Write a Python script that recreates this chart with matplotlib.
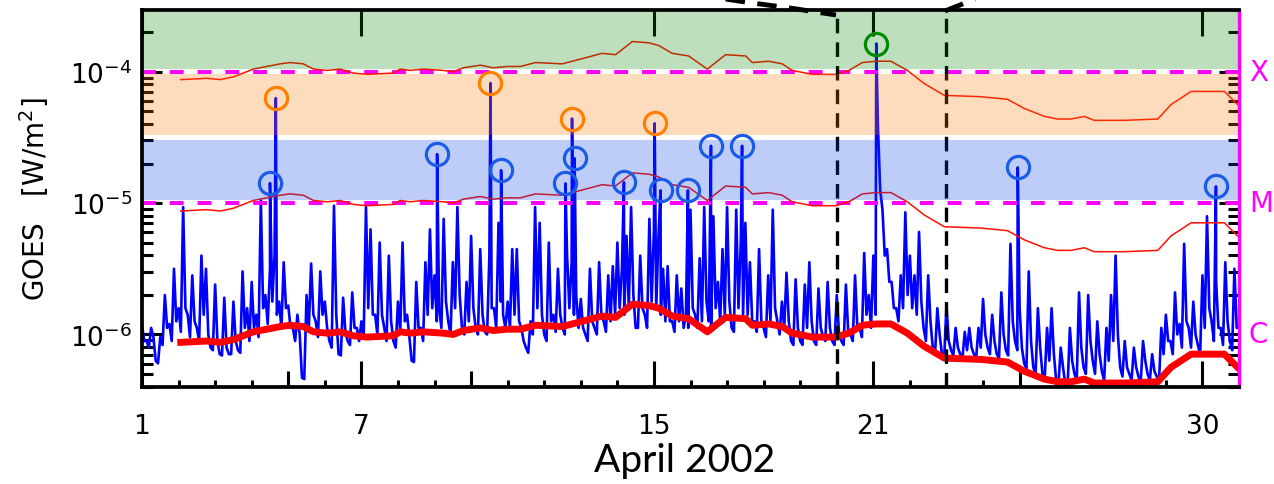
import numpy as np
import matplotlib
matplotlib.use('Agg')
import matplotlib.pyplot as plt
from matplotlib.lines import Line2D
from matplotlib.ticker import FixedLocator, FixedFormatter, LogLocator, NullFormatter
from matplotlib.transforms import blended_transform_factory

plt.rcParams['lines.scale_dashes'] = False

# GOES 1-8 A flux (log10 W/m^2), one value every 1/8 day from April 1.0 to May 1.0
goes_log = [
    -5.93, -6.05, -5.95, -6.20, -6.02, -5.70, -5.92, -5.50,   # 1
    -5.80, -5.03, -5.85, -5.55, -5.95, -5.40, -5.50, -6.10,   # 2
    -5.62, -6.15, -5.72, -6.15, -5.75, -6.12, -5.52, -5.80,   # 3
    -5.60, -5.85, -4.98, -5.70, -5.50, -5.40, -5.75, -5.45,   # 4
    -5.78, -5.95, -5.85, -6.33, -5.70, -5.46, -5.90, -5.52,   # 5
    -5.75, -6.05, -5.02, -6.15, -5.72, -6.05, -5.68, -5.95,   # 6
    -5.90, -5.03, -5.20, -5.85, -5.30, -5.95, -5.40, -6.05,   # 7
    -5.75, -5.30, -5.85, -6.20, -5.60, -5.95, -5.45, -5.20,   # 8
    -5.55, -5.80, -5.12, -5.90, -5.45, -5.03, -5.95, -5.60,   # 9
    -5.25, -5.95, -5.35, -5.98, -5.40, -5.80, -5.15, -5.85,   # 10
    -5.75, -5.35, -5.35, -5.95, -6.10, -5.90, -5.03, -5.15,   # 11
    -6.00, -5.30, -5.85, -5.50, -5.95, -5.40, -5.45, -5.70,   # 12
    -5.73, -6.00, -5.50, -5.95, -5.45, -5.90, -5.55, -5.48,   # 13
    -5.30, -5.50, -5.25, -5.03, -5.95, -5.40, -5.85, -5.12,   # 14
    -5.20, -5.25, -5.50, -5.48, -5.90, -5.55, -5.65, -5.85,   # 15
    -5.05, -5.85, -5.42, -5.03, -5.90, -5.10, -5.60, -5.35,   # 16
    -5.03, -5.95, -5.05, -5.30, -5.15, -5.45, -5.90, -5.35,   # 17
    -5.95, -5.55, -5.05, -5.90, -5.75, -5.53, -6.05, -5.58,   # 18
    -6.05, -5.62, -5.45, -6.05, -5.65, -6.02, -5.60, -6.05,   # 19
    -5.70, -6.05, -5.62, -6.00, -5.55, -5.95, -5.38, -5.70,   # 20
    -5.40, -4.40, -5.05, -5.35, -5.60, -5.80, -5.55, -5.07,   # 21
    -5.40, -5.55, -5.22, -5.95, -5.55, -6.10, -5.80, -6.15,   # 22
    -5.78, -6.12, -5.95, -6.15, -5.98, -5.95, -6.15, -5.95,   # 23
    -5.73, -6.10, -5.85, -6.15, -5.68, -6.12, -5.31, -6.05,   # 24
    -5.80, -6.22, -5.52, -6.25, -5.80, -6.30, -5.95, -5.80,   # 25
    -6.35, -6.10, -6.38, -5.95, -6.30, -5.68, -6.25, -5.70,   # 26
    -6.20, -5.90, -6.28, -5.95, -5.70, -5.40, -6.25, -6.05,   # 27
    -6.30, -6.10, -6.32, -6.05, -6.30, -6.15, -6.32, -5.95,   # 28
    -5.85, -6.05, -5.68, -5.92, -5.31, -5.95, -5.75, -6.08,   # 29
    -5.55, -5.10, -5.90, -5.60, -5.95, -5.45, -6.05, -5.50,   # 30
    -5.95,
]
# lower readings between those samples (at +1/16 day)
goes_low = [
    -6.05, -6.10, -6.02, -6.22, -6.08, -5.95, -6.05, -5.90,   # 1
    -5.98, -5.80, -6.02, -5.90, -6.05, -5.85, -6.00, -6.12,   # 2
    -6.05, -6.16, -6.10, -6.15, -6.05, -6.14, -5.95, -6.05,   # 3
    -5.95, -6.02, -5.80, -5.92, -5.75, -5.85, -5.95, -5.80,   # 4
    -5.95, -6.05, -6.00, -6.34, -5.95, -5.85, -6.02, -5.85,   # 5
    -5.95, -6.10, -5.85, -6.16, -5.98, -6.08, -5.95, -6.05,   # 6
    -6.02, -5.80, -5.85, -6.00, -5.85, -6.05, -5.90, -6.10,   # 7
    -5.98, -5.90, -6.02, -6.21, -5.95, -6.05, -5.85, -5.80,   # 8
    -5.90, -5.95, -5.75, -6.00, -5.80, -5.70, -6.00, -5.90,   # 9
    -5.80, -6.00, -5.85, -6.00, -5.80, -5.95, -5.75, -5.95,   # 10
    -5.95, -5.85, -5.90, -6.05, -6.14, -6.00, -5.80, -5.85,   # 11
    -6.05, -5.90, -5.98, -5.85, -6.00, -5.80, -5.85, -5.95,   # 12
    -5.95, -6.05, -5.90, -6.00, -5.85, -5.98, -5.90, -5.85,   # 13
    -5.80, -5.85, -5.80, -5.70, -5.95, -5.80, -5.95, -5.75,   # 14
    -5.80, -5.85, -5.90, -5.90, -5.98, -5.90, -5.95, -5.95,   # 15
    -5.80, -5.95, -5.90, -5.75, -5.98, -5.80, -5.90, -5.85,   # 16
    -5.75, -5.98, -5.80, -5.85, -5.85, -5.90, -5.98, -5.90,   # 17
    -6.02, -5.90, -5.80, -6.00, -5.95, -5.90, -6.08, -5.95,   # 18
    -6.08, -5.95, -5.90, -6.08, -5.95, -6.05, -5.95, -6.08,   # 19
    -6.00, -6.08, -5.98, -6.05, -5.95, -6.02, -5.85, -5.95,   # 20
    -5.85, -4.90, -5.40, -5.60, -5.80, -5.90, -5.80, -5.70,   # 21
    -5.80, -5.85, -5.75, -6.05, -5.90, -6.15, -6.00, -6.18,   # 22
    -6.05, -6.16, -6.10, -6.18, -6.12, -6.10, -6.18, -6.10,   # 23
    -6.00, -6.15, -6.05, -6.18, -6.00, -6.16, -5.90, -6.12,   # 24
    -6.10, -6.26, -6.05, -6.30, -6.10, -6.33, -6.20, -6.15,   # 25
    -6.38, -6.25, -6.40, -6.20, -6.35, -6.10, -6.30, -6.05,   # 26
    -6.30, -6.15, -6.35, -6.20, -6.05, -6.00, -6.32, -6.25,   # 27
    -6.35, -6.25, -6.36, -6.20, -6.35, -6.28, -6.36, -6.15,   # 28
    -6.05, -6.15, -6.00, -6.10, -5.90, -6.10, -6.00, -6.15,   # 29
    -5.95, -5.80, -6.05, -5.95, -6.08, -5.90, -6.12, -5.95,   # 30
]
goes_step = 1 / 8

# flare peaks marked with circles
flare_day = [4.50, 4.66, 9.07, 10.53, 10.82, 12.58, 12.76, 12.83, 14.18,
             15.02, 15.18, 15.93, 16.56, 17.41, 21.08, 24.95, 30.37]
flare_flux = [1.42e-5, 6.3e-5, 2.36e-5, 8.2e-5, 1.78e-5, 1.41e-5, 4.4e-5,
              2.19e-5, 1.44e-5, 4.05e-5, 1.25e-5, 1.25e-5, 2.73e-5, 2.73e-5,
              1.64e-4, 1.87e-5, 1.34e-5]

# background level (thick red), log10 W/m^2
bg_day = [2.06, 2.77, 3.14, 3.49, 3.77, 4.04, 4.41, 4.78, 5.05, 5.41, 5.69,
          6.06, 6.42, 6.78, 7.15, 7.87, 8.06, 8.34, 8.69, 9.24, 9.51, 9.79,
          10.25, 10.61, 10.98, 11.35, 11.76, 12.49, 13.04, 13.58, 13.95,
          14.41, 14.86, 15.13, 15.50, 15.95, 16.46, 16.96, 17.51, 17.69,
          18.14, 18.51, 18.78, 19.33, 19.97, 20.33, 20.70, 21.07, 21.48,
          21.93, 22.39, 22.94, 23.94, 24.67, 25.13, 25.68, 26.04, 26.40,
          26.77, 27.04, 27.86, 28.78, 29.14, 29.69, 30.15, 30.60, 30.96]
bg_log = [-6.06, -6.05, -6.06, -6.04, -6.01, -5.98, -5.96, -5.94, -5.93,
          -5.94, -5.98, -5.99, -5.98, -6.01, -6.02, -6.01, -5.98, -5.99,
          -5.98, -5.99, -6.00, -5.97, -5.95, -5.97, -5.96, -5.96, -5.93,
          -5.94, -5.90, -5.86, -5.87, -5.77, -5.78, -5.80, -5.86, -5.88,
          -5.98, -5.87, -5.88, -5.93, -5.92, -5.94, -5.99, -6.02, -6.02,
          -5.99, -5.93, -5.92, -5.92, -5.99, -6.09, -6.18, -6.19, -6.21,
          -6.28, -6.34, -6.36, -6.36, -6.34, -6.37, -6.37, -6.36, -6.25,
          -6.15, -6.15, -6.15, -6.25]
threshold_factors = [10, 100]

class_levels = [1e-6, 1e-5, 1e-4]
class_labels = ['C', 'M', 'X']
band_edges = [1e-5, 10 ** -4.5, 1e-4, 10 ** -3.53]
band_colors = ['#073ee5', '#f87a03', '#008700']

day_ticks = [1, 7, 15, 21, 30]
mid_ticks = [5, 10, 20, 25]
marked_days = [20, 23]

MAGENTA = '#ff00ff'

fig = plt.figure(figsize=(12.74, 4.85), dpi=100)
ax = fig.add_axes([142 / 1274, 97 / 485, 1097 / 1274, 377 / 485])
ax.set_yscale('log')
ax.set_xlim(1, 31)
ax.set_ylim(10 ** -6.40, 10 ** -3.53)

# GOES curve: samples, in-between lows and flare peaks merged by time
g_day = 1 + goes_step * np.arange(len(goes_log))
l_day = 1 + goes_step / 2 + goes_step * np.arange(len(goes_low))
all_day = np.concatenate([g_day, l_day, flare_day])
all_flux = np.concatenate([10 ** np.array(goes_log), 10 ** np.array(goes_low), flare_flux])
order = np.argsort(all_day, kind='stable')
ax.plot(all_day[order], all_flux[order], color='#0000ff', lw=1.9, zorder=2)

bg = 10 ** np.array(bg_log)
for f in threshold_factors:
    ax.plot(bg_day, bg * f, color='#ff1000', lw=1.1, zorder=2.2)
ax.plot(bg_day, bg, color='#ff0000', lw=5, zorder=3)

# class thresholds
for lev in class_levels[1:]:
    ax.axhline(lev, color=MAGENTA, lw=2.9, dashes=(10, 10), zorder=2.1)
for d in marked_days:
    ax.axvline(d, color='black', lw=2.4, dashes=(10.5, 6.5), zorder=3.5)

# translucent class bands on top
gap = 0.02
for lo, hi, c in zip(band_edges[:-1], band_edges[1:], band_colors):
    top = hi if hi == band_edges[-1] else hi * 10 ** -gap
    ax.axhspan(lo * 10 ** gap, top, color=c, alpha=0.26, lw=0, zorder=4)

# circles at flare peaks
for d, f in zip(flare_day, flare_flux):
    if f >= 1e-4:
        c = '#008a00'
    elif f >= 10 ** -4.5:
        c = '#ff7f00'
    else:
        c = '#1a5ce8'
    ax.plot(d, f, 'o', ms=16, mfc='none', mec=c, mew=2.3, zorder=6)

# axes styling
for s in ['left', 'bottom', 'top']:
    ax.spines[s].set_linewidth(2.7)
    ax.spines[s].set_zorder(8)
ax.spines['right'].set_color(MAGENTA)
ax.spines['right'].set_linewidth(2.4)
ax.spines['right'].set_zorder(8)

ax.xaxis.set_major_locator(FixedLocator(day_ticks))
ax.xaxis.set_minor_locator(FixedLocator(range(1, 32)))
ax.xaxis.set_major_formatter(FixedFormatter([str(d) for d in day_ticks]))
ax.tick_params(axis='x', which='major', direction='in', length=18.5, width=2.2,
               top=True, pad=19, labelsize=19)
ax.tick_params(axis='x', which='minor', direction='in', length=5, width=2.2,
               top=False)
xt = ax.get_xaxis_transform()
ax.vlines(mid_ticks, 0, 16 / 377, color='black', lw=2.2, transform=xt, zorder=1.6)

ax.yaxis.set_major_locator(FixedLocator(class_levels))
ax.yaxis.set_major_formatter(FixedFormatter([r'$10^{-6}$', r'$10^{-5}$', r'$10^{-4}$']))
ax.yaxis.set_minor_locator(LogLocator(subs=np.arange(2, 10)))
ax.yaxis.set_minor_formatter(NullFormatter())
ax.tick_params(axis='y', which='major', direction='in', length=14.4, width=2.2,
               right=True, pad=7, labelsize=19)
ax.tick_params(axis='y', which='minor', direction='in', length=8, width=2.2,
               right=True)
for t in ax.yaxis.get_major_ticks():
    t.tick2line.set_color(MAGENTA)

yt = blended_transform_factory(ax.transAxes, ax.transData)
for lev, lab in zip(class_levels, class_labels):
    ax.text(1.009, lev, lab, transform=yt, color=MAGENTA, fontsize=20,
            ha='left', va='center')

ax.set_ylabel('GOES   [W/m$^2$]', fontsize=20)
ax.yaxis.set_label_coords(-0.083, 0.5)

fig.text(685 / 1274, 1 - 461 / 485, 'April 2002', fontsize=28, family='Lato',
         ha='center', va='center')

# dashed guide lines leading up from the marked interval
px = lambda x, y: (x / 1274, 1 - y / 485)
left_arc = [px(700, -4), px(745, 3), px(790, 9), px(836, 16)]
right_arc = [px(945, 12), px(1000, -10)]
for arc in (left_arc, right_arc):
    xs, ys = zip(*arc)
    fig.add_artist(Line2D(xs, ys, color='black', lw=3.5, dashes=(14, 9),
                          transform=fig.transFigure))

fig.savefig('out.png', dpi=100)
